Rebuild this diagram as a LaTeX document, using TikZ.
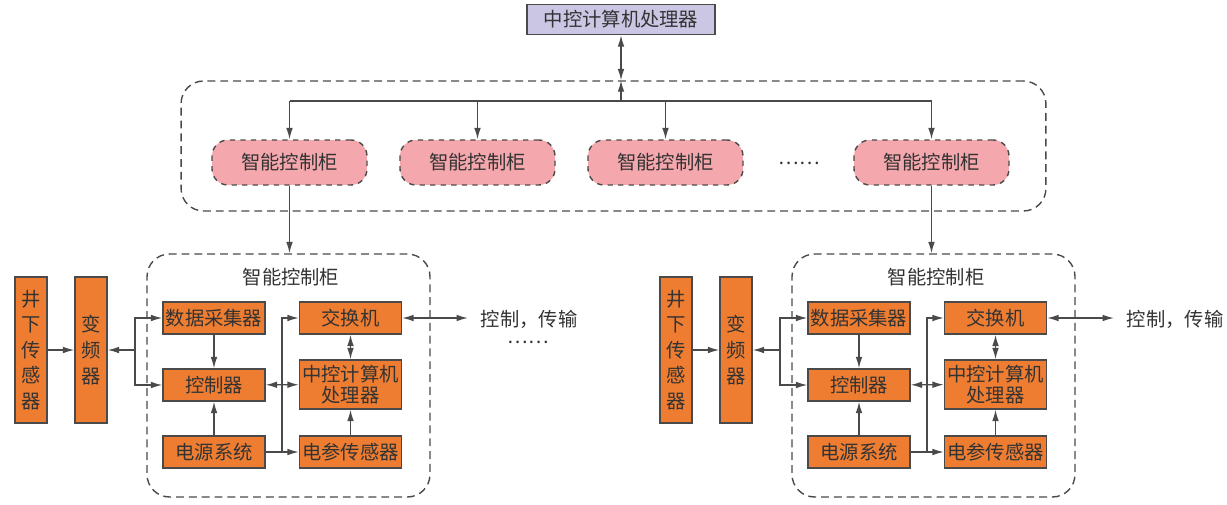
\documentclass[tikz,border=0pt]{standalone}
\usepackage{fontspec}
\setmainfont{Noto Sans CJK SC}
\usetikzlibrary{arrows.meta}
\definecolor{edge}{HTML}{4A4A4A}
\definecolor{ink}{HTML}{333333}
\definecolor{orangebox}{HTML}{EE7D31}
\definecolor{cabpink}{HTML}{F4A7AD}
\definecolor{lavender}{HTML}{CBC6E4}

\begin{document}
\begin{tikzpicture}[x=0.02cm, y=-0.02cm, color=edge, line width=0.8pt,
  >={Latex[length=6.5pt,width=3.8pt]},
  every node/.style={text=ink, inner sep=0pt, font=\fontsize{11}{13}\selectfont},
  box/.style={draw, fill=orangebox, minimum width=2.04cm, minimum height=0.64cm},
  tall/.style={box, minimum width=0.64cm, minimum height=2.92cm, align=center, font=\fontsize{11}{14.6}\selectfont},
  cab/.style={draw, dashed, fill=cabpink, rounded corners=0.32cm, minimum width=3.1cm, minimum height=0.9cm},
  grp/.style={draw, dash pattern=on 4.5pt off 2.8pt, rounded corners=0.45cm}]
  \useasboundingbox (0,0) rectangle (1227,504);
  % top level
  \node[draw, fill=lavender, minimum width=3.76cm, minimum height=0.6cm] (top) at (621,19.5) {中控计算机处理器};
  \node[grp, minimum width=17.3cm, minimum height=2.6cm] (big) at (613.5,146) {};
  \node[cab] (k1) at (289.5,162.5) {智能控制柜};
  \node[cab] (k2) at (477.5,162.5) {智能控制柜};
  \node[cab] (k3) at (665.5,162.5) {智能控制柜};
  \node (more) at (799,163) {……};
  \node[cab] (k4) at (931.5,162.5) {智能控制柜};
  \coordinate (hub) at (621,101);
  \draw[<->] (top) -- (top |- big.north);
  \draw[->] (hub) -- (hub |- big.north);
  \draw (hub -| k1) -- (hub -| k4);
  \draw[->] (hub -| k1) -- (k1);
  \draw[->] (hub -| k2) -- (k2);
  \draw[->] (hub -| k3) -- (k3);
  \draw[->] (hub -| k4) -- (k4);
  % left cabinet
  \node[grp, minimum width=5.66cm, minimum height=4.86cm] (g1) at (288.5,375.5) {};
  \node (n1) at (291,277) {智能控制柜};
  \node[tall] (s1) at (31,350) {井\\下\\传\\感\\器};
  \node[tall] (v1) at (91,350) {变\\频\\器};
  \node[box] (daq1) at (214,318) {数据采集器};
  \node[box] (ctrl1) at (214,385) {控制器};
  \node[box] (pwr1) at (214,452) {电源系统};
  \node[box] (sw1) at (350.5,318) {交换机};
  \node[box, minimum height=0.98cm, align=center, font=\fontsize{11}{12.3}\selectfont] (cpu1) at (350.5,384.5) {中控计算机\\处理器};
  \node[box] (sens1) at (350.5,452) {电参传感器};
  \node[anchor=west] (out1) at (480,319) {控制，传输};
  \node (etc1) at (528,342) {……};
  \coordinate (j1) at (135,350);
  \coordinate (b1) at (282,452);
  \coordinate (o1) at (468,318);
  \draw[->] (k1) -- (k1 |- g1.north);
  \draw[->] (s1) -- (v1);
  \draw[->] (j1) -- (v1);
  \draw[->] (j1) |- (daq1);
  \draw[->] (j1) |- (ctrl1);
  \draw[->] (daq1) -- (ctrl1);
  \draw[->] (pwr1) -- (ctrl1);
  \draw[->] (pwr1) -- (sens1);
  \draw[->] (b1) |- (sw1);
  \draw[<->] (ctrl1) -- (cpu1);
  \draw[->] (sens1) -- (cpu1);
  \draw[<->] (cpu1) -- (sw1);
  \draw[<->] (sw1) -- (o1);
  % right cabinet
  \node[grp, minimum width=5.66cm, minimum height=4.86cm] (g2) at (933.5,375.5) {};
  \node (n2) at (936,277) {智能控制柜};
  \node[tall] (s2) at (676,350) {井\\下\\传\\感\\器};
  \node[tall] (v2) at (736,350) {变\\频\\器};
  \node[box] (daq2) at (859,318) {数据采集器};
  \node[box] (ctrl2) at (859,385) {控制器};
  \node[box] (pwr2) at (859,452) {电源系统};
  \node[box] (sw2) at (995.5,318) {交换机};
  \node[box, minimum height=0.98cm, align=center, font=\fontsize{11}{12.3}\selectfont] (cpu2) at (995.5,384.5) {中控计算机\\处理器};
  \node[box] (sens2) at (995.5,452) {电参传感器};
  \node[anchor=west] (out2) at (1126,319) {控制，传输};
  \coordinate (j2) at (780,350);
  \coordinate (b2) at (927,452);
  \coordinate (o2) at (1114,318);
  \draw[->] (k4) -- (k4 |- g2.north);
  \draw[->] (s2) -- (v2);
  \draw[->] (j2) -- (v2);
  \draw[->] (j2) |- (daq2);
  \draw[->] (j2) |- (ctrl2);
  \draw[->] (daq2) -- (ctrl2);
  \draw[->] (pwr2) -- (ctrl2);
  \draw[->] (pwr2) -- (sens2);
  \draw[->] (b2) |- (sw2);
  \draw[<->] (ctrl2) -- (cpu2);
  \draw[->] (sens2) -- (cpu2);
  \draw[<->] (cpu2) -- (sw2);
  \draw[<->] (sw2) -- (o2);
\end{tikzpicture}
\end{document}
